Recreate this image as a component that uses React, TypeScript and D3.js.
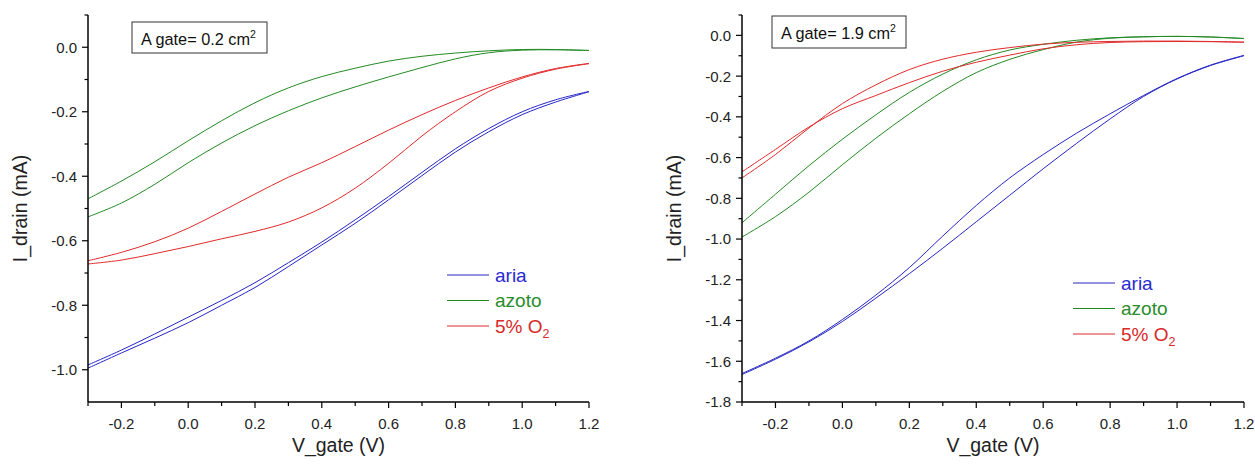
import React from "react";
import * as d3 from "d3";

// ---------- data ----------
const vGate = [-0.3, -0.2, -0.1, 0.0, 0.1, 0.2, 0.3, 0.4, 0.5, 0.6, 0.7, 0.8, 0.9, 1.0, 1.1, 1.2];

// Left panel: A gate = 0.2 cm2
const leftAriaA = [-0.985, -0.939, -0.889, -0.837, -0.785, -0.73, -0.668, -0.604, -0.535, -0.463, -0.388, -0.315, -0.252, -0.2, -0.163, -0.137];
const leftAriaB = [-0.995, -0.948, -0.902, -0.854, -0.8, -0.745, -0.68, -0.613, -0.546, -0.473, -0.398, -0.325, -0.262, -0.209, -0.17, -0.138];
const leftAzotoA = [-0.47, -0.415, -0.355, -0.29, -0.228, -0.172, -0.126, -0.091, -0.065, -0.043, -0.028, -0.018, -0.011, -0.007, -0.007, -0.01];
const leftAzotoB = [-0.526, -0.483, -0.425, -0.358, -0.297, -0.243, -0.197, -0.157, -0.123, -0.092, -0.063, -0.036, -0.017, -0.009, -0.008, -0.01];
const leftO2A = [-0.662, -0.636, -0.603, -0.561, -0.509, -0.455, -0.403, -0.358, -0.308, -0.257, -0.209, -0.165, -0.126, -0.092, -0.066, -0.05];
const leftO2B = [-0.672, -0.66, -0.64, -0.618, -0.594, -0.571, -0.542, -0.498, -0.437, -0.36, -0.275, -0.2, -0.137, -0.096, -0.068, -0.051];

// Right panel: A gate = 1.9 cm2
const rightAriaA = [-1.66, -1.585, -1.5, -1.395, -1.275, -1.14, -0.985, -0.835, -0.7, -0.585, -0.48, -0.385, -0.295, -0.212, -0.146, -0.098];
const rightAriaB = [-1.665, -1.59, -1.505, -1.405, -1.29, -1.17, -1.045, -0.915, -0.785, -0.655, -0.53, -0.41, -0.3, -0.214, -0.148, -0.1];
const rightAzotoA = [-0.92, -0.78, -0.64, -0.51, -0.39, -0.28, -0.19, -0.12, -0.072, -0.044, -0.024, -0.012, -0.007, -0.005, -0.008, -0.016];
const rightAzotoB = [-0.99, -0.89, -0.77, -0.635, -0.505, -0.385, -0.275, -0.183, -0.118, -0.07, -0.033, -0.014, -0.007, -0.005, -0.008, -0.015];
const rightO2A = [-0.67, -0.56, -0.45, -0.36, -0.295, -0.232, -0.176, -0.132, -0.097, -0.066, -0.046, -0.035, -0.031, -0.03, -0.031, -0.034];
const rightO2B = [-0.7, -0.585, -0.455, -0.335, -0.243, -0.168, -0.117, -0.083, -0.06, -0.043, -0.034, -0.03, -0.028, -0.028, -0.03, -0.033];

const xTicks = [-0.2, 0.0, 0.2, 0.4, 0.6, 0.8, 1.0, 1.2];
const xMinorTicks = [-0.3, -0.1, 0.1, 0.3, 0.5, 0.7, 0.9, 1.1];
const leftYTicks = [0.0, -0.2, -0.4, -0.6, -0.8, -1.0];
const leftYMinorTicks = [0.1, -0.1, -0.3, -0.5, -0.7, -0.9];
const rightYTicks = [0.0, -0.2, -0.4, -0.6, -0.8, -1.0, -1.2, -1.4, -1.6, -1.8];
const rightYMinorTicks = [0.1, -0.1, -0.3, -0.5, -0.7, -0.9, -1.1, -1.3, -1.5, -1.7];

const seriesNames = ["aria", "azoto", "5% O"];
const seriesColors = ["#2626c4", "#238a23", "#e02a2a"];
const legendColors = ["#2a2ad0", "#2a8c2a", "#d82828"];

const FONT = "'Liberation Sans', Arial, Helvetica, sans-serif";

type PanelProps = {
  x0: number; x1: number; yTop: number; yBottom: number;
  yDomain: [number, number];
  yTicks: number[]; yMinor: number[];
  series: number[][][];
  gateLabel: string;
  box: { x: number; y: number; w: number; h: number };
  legend: { x: number; y: number; dy: number };
  yTitleX: number;
};

function Panel(p: PanelProps) {
  const x = d3.scaleLinear().domain([-0.3, 1.2]).range([p.x0, p.x1]);
  const y = d3.scaleLinear().domain(p.yDomain).range([p.yBottom, p.yTop]);
  const line = d3
    .line<number>()
    .x((_, i) => x(vGate[i]))
    .y((d) => y(d))
    .curve(d3.curveCatmullRom.alpha(0.5));
  const fmt = (v: number) => (Math.abs(v) < 1e-9 ? "0.0" : v.toFixed(1));
  return (
    <g>
      {/* curves */}
      {p.series.map((pair, si) =>
        pair.map((vals, bi) => (
          <path key={`${si}-${bi}`} d={line(vals) || ""} fill="none" stroke={seriesColors[si]} strokeWidth={1} />
        ))
      )}
      {/* axes */}
      <line x1={p.x0} x2={p.x0} y1={p.yTop} y2={p.yBottom} stroke="#000" strokeWidth={1.5} />
      <line x1={p.x0} x2={p.x1} y1={p.yBottom} y2={p.yBottom} stroke="#000" strokeWidth={1.5} />
      {p.yTicks.map((t) => (
        <g key={`yt${t}`}>
          <line x1={p.x0 - 6} x2={p.x0} y1={y(t)} y2={y(t)} stroke="#000" strokeWidth={1.2} />
          <text x={p.x0 - 11} y={y(t)} dy="0.36em" textAnchor="end" fontSize={15} fontFamily={FONT} fill="#222">
            {fmt(t)}
          </text>
        </g>
      ))}
      {p.yMinor.map((t) => (
        <line key={`ym${t}`} x1={p.x0 - 3.5} x2={p.x0} y1={y(t)} y2={y(t)} stroke="#000" strokeWidth={1.2} />
      ))}
      {xTicks.map((t) => (
        <g key={`xt${t}`}>
          <line x1={x(t)} x2={x(t)} y1={p.yBottom} y2={p.yBottom + 6} stroke="#000" strokeWidth={1.2} />
          <text x={x(t)} y={p.yBottom + 27} textAnchor="middle" fontSize={15} fontFamily={FONT} fill="#222">
            {fmt(t)}
          </text>
        </g>
      ))}
      {xMinorTicks.map((t) => (
        <line key={`xm${t}`} x1={x(t)} x2={x(t)} y1={p.yBottom} y2={p.yBottom + 4} stroke="#000" strokeWidth={1.2} />
      ))}
      {/* axis titles */}
      <text x={(p.x0 + p.x1) / 2} y={452} textAnchor="middle" fontSize={19.5} fontFamily={FONT} fill="#222">
        V_gate (V)
      </text>
      <text
        transform={`translate(${p.yTitleX},${(p.yTop + p.yBottom) / 2}) rotate(-90)`}
        textAnchor="middle"
        fontSize={19.5}
        fontFamily={FONT}
        fill="#222"
      >
        I_drain (mA)
      </text>
      {/* gate area box */}
      <rect x={p.box.x} y={p.box.y} width={p.box.w} height={p.box.h} fill="#fff" stroke="#333" strokeWidth={1} />
      <text x={p.box.x + 9} y={p.box.y + 22.5} fontSize={16.3} fontFamily={FONT} fill="#111">
        {p.gateLabel}
        <tspan fontSize={10.5} dy={-7}>2</tspan>
      </text>
      {/* legend */}
      {seriesNames.map((n, i) => (
        <g key={n}>
          <line
            x1={p.legend.x}
            x2={p.legend.x + 42}
            y1={p.legend.y + i * p.legend.dy}
            y2={p.legend.y + i * p.legend.dy}
            stroke={seriesColors[i]}
            strokeWidth={1}
          />
          <text
            x={p.legend.x + 48}
            y={p.legend.y + i * p.legend.dy + 6.8}
            fontSize={19}
            fontFamily={FONT}
            fill={legendColors[i]}
          >
            {n}
            {i === 2 ? <tspan fontSize={12.5} dy={5}>2</tspan> : null}
          </text>
        </g>
      ))}
    </g>
  );
}

export default function App() {
  return (
    <svg width={1255} height={466} style={{ position: "absolute", left: 0, top: 0, background: "#fff" }}>
      <rect x={0} y={0} width={1255} height={466} fill="#fff" />
      <Panel
        x0={88}
        x1={589}
        yTop={15}
        yBottom={402}
        yDomain={[-1.1, 0.1]}
        yTicks={leftYTicks}
        yMinor={leftYMinorTicks}
        series={[
          [leftAriaA, leftAriaB],
          [leftAzotoA, leftAzotoB],
          [leftO2A, leftO2B],
        ]}
        gateLabel="A gate= 0.2 cm"
        box={{ x: 132, y: 22, w: 135, h: 31 }}
        legend={{ x: 447, y: 275, dy: 25.5 }}
        yTitleX={27}
      />
      <Panel
        x0={742}
        x1={1244}
        yTop={15}
        yBottom={402}
        yDomain={[-1.8, 0.1]}
        yTicks={rightYTicks}
        yMinor={rightYMinorTicks}
        series={[
          [rightAriaA, rightAriaB],
          [rightAzotoA, rightAzotoB],
          [rightO2A, rightO2B],
        ]}
        gateLabel="A gate= 1.9 cm"
        box={{ x: 772, y: 16, w: 134, h: 32 }}
        legend={{ x: 1073, y: 283, dy: 25.5 }}
        yTitleX={681}
      />
    </svg>
  );
}
